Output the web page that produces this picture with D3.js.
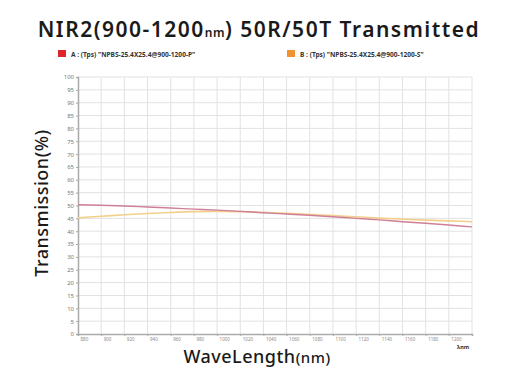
<!DOCTYPE html>
<html>
<head>
<meta charset="utf-8">
<style>
  body { margin: 0; background: #fff; }
  svg text { font-family: "Noto Sans", sans-serif; }
</style>
</head>
<body>
<div id="chart"></div>
<script src="https://d3js.org/d3.v7.min.js"></script>
<script>
// wavelength (nm), every 20 nm
var wavelengths = [880, 900, 920, 940, 960, 980, 1000, 1020, 1040, 1060, 1080, 1100, 1120, 1140, 1160, 1180, 1200, 1220];
// A : P-polarised transmission (%)
var seriesA = [50.3, 50.1, 49.8, 49.4, 49.0, 48.6, 48.2, 47.7, 47.2, 46.7, 46.2, 45.6, 45.0, 44.4, 43.7, 43.1, 42.4, 41.7];
// B : S-polarised transmission (%)
var seriesB = [45.2, 45.8, 46.4, 46.9, 47.3, 47.6, 47.7, 47.6, 47.4, 47.0, 46.5, 46.1, 45.6, 45.1, 44.7, 44.3, 44.0, 43.7];
var xTicks = [880, 900, 920, 940, 960, 980, 1000, 1020, 1040, 1060, 1080, 1100, 1120, 1140, 1160, 1180, 1200];
var yTicks = d3.range(0, 101, 5);
var legendNames = ['A : (Tps) "NPBS-25.4X25.4@900-1200-P"', 'B : (Tps) "NPBS-25.4X25.4@900-1200-S"'];

var W = 528, H = 385;
var margin = {top: 77, right: 56, bottom: 51, left: 78};
var width = W - margin.left - margin.right,
    height = H - margin.top - margin.bottom;

var svg = d3.select("#chart").append("svg")
    .attr("width", W).attr("height", H);

// title
var title = svg.append("text")
    .attr("x", 259).attr("y", 37)
    .attr("text-anchor", "middle")
    .attr("font-size", 21).attr("font-weight", 600)
    .attr("letter-spacing", 1.5)
    .attr("fill", "#1a1a1a");
title.append("tspan").text("NIR2(900-1200");
title.append("tspan").attr("font-size", 12).attr("letter-spacing", 0.5).text("nm");
title.append("tspan").text(") 50R/50T Transmitted");

// legend
var legend = svg.append("g").selectAll("g")
    .data(legendNames).join("g")
    .attr("transform", function(d, i) { return "translate(" + (i == 0 ? 58 : 287) + ",50)"; });
legend.append("rect")
    .attr("width", 8).attr("height", 7)
    .attr("fill", function(d, i) { return i == 0 ? "#e0262b" : "#f0922e"; });
legend.append("text")
    .attr("x", 13).attr("y", 6.5)
    .attr("font-size", 6.6).attr("font-weight", 700)
    .attr("fill", "#333")
    .text(function(d) { return d; });

var g = svg.append("g")
    .attr("transform", "translate(" + margin.left + "," + margin.top + ")");

var x = d3.scaleLinear().domain([880, 1220]).range([0, width]);
var y = d3.scaleLinear().domain([0, 100]).range([height, 0]);

// grid
g.append("g").selectAll("line")
    .data(yTicks.slice(1)).join("line")
    .attr("x1", 0).attr("x2", width)
    .attr("y1", function(d) { return y(d); }).attr("y2", function(d) { return y(d); })
    .attr("stroke", "#e2e2e2").attr("stroke-width", 1);
g.append("g").selectAll("line")
    .data(d3.range(900, 1221, 20)).join("line")
    .attr("x1", function(d) { return x(d); }).attr("x2", function(d) { return x(d); })
    .attr("y1", 0).attr("y2", height)
    .attr("stroke", "#e2e2e2").attr("stroke-width", 1);

// axes
var yAxis = g.append("g")
    .call(d3.axisLeft(y).tickValues(yTicks).tickSize(2).tickPadding(2));
yAxis.select(".domain").attr("stroke", "#aaa").attr("stroke-width", 1.5);
yAxis.selectAll(".tick line").attr("stroke", "#aaa");
yAxis.selectAll("text").attr("font-size", 6).attr("fill", "#777");

var xAxis = g.append("g")
    .attr("transform", "translate(0," + height + ")")
    .call(d3.axisBottom(x).tickValues(xTicks).tickSize(2).tickPadding(2).tickFormat(d3.format("d")));
xAxis.select(".domain").attr("stroke", "#aaa").attr("stroke-width", 1.5);
xAxis.selectAll(".tick line").attr("stroke", "#aaa");
xAxis.selectAll("text").attr("font-size", 4.5).attr("fill", "#888")
    .attr("text-anchor", "start").attr("dx", 2);

g.append("text")
    .attr("x", width - 15).attr("y", height + 15)
    .attr("font-size", 5.5).attr("font-weight", 700).attr("fill", "#333")
    .text("λnm");

// lines
var line = d3.line()
    .x(function(d, i) { return x(wavelengths[i]); })
    .y(function(d) { return y(d); })
    .curve(d3.curveMonotoneX);

g.append("path").datum(seriesB)
    .attr("fill", "none").attr("stroke", "#f2d08c").attr("stroke-width", 1.6)
    .attr("d", line);
g.append("path").datum(seriesA)
    .attr("fill", "none").attr("stroke", "#cf7f96").attr("stroke-width", 1.4)
    .attr("d", line);

// axis titles
svg.append("text")
    .attr("transform", "translate(48,203) rotate(-90)")
    .attr("text-anchor", "middle")
    .attr("font-size", 18).attr("font-weight", 500).attr("letter-spacing", 0.5)
    .attr("fill", "#1a1a1a")
    .text("Transmission(%)");

var xt = svg.append("text")
    .attr("x", 257).attr("y", 363)
    .attr("text-anchor", "middle")
    .attr("font-size", 18).attr("font-weight", 500).attr("letter-spacing", 0.5)
    .attr("fill", "#1a1a1a");
xt.append("tspan").text("WaveLength");
xt.append("tspan").attr("font-size", 15).text("(nm)");
</script>
</body>
</html>
